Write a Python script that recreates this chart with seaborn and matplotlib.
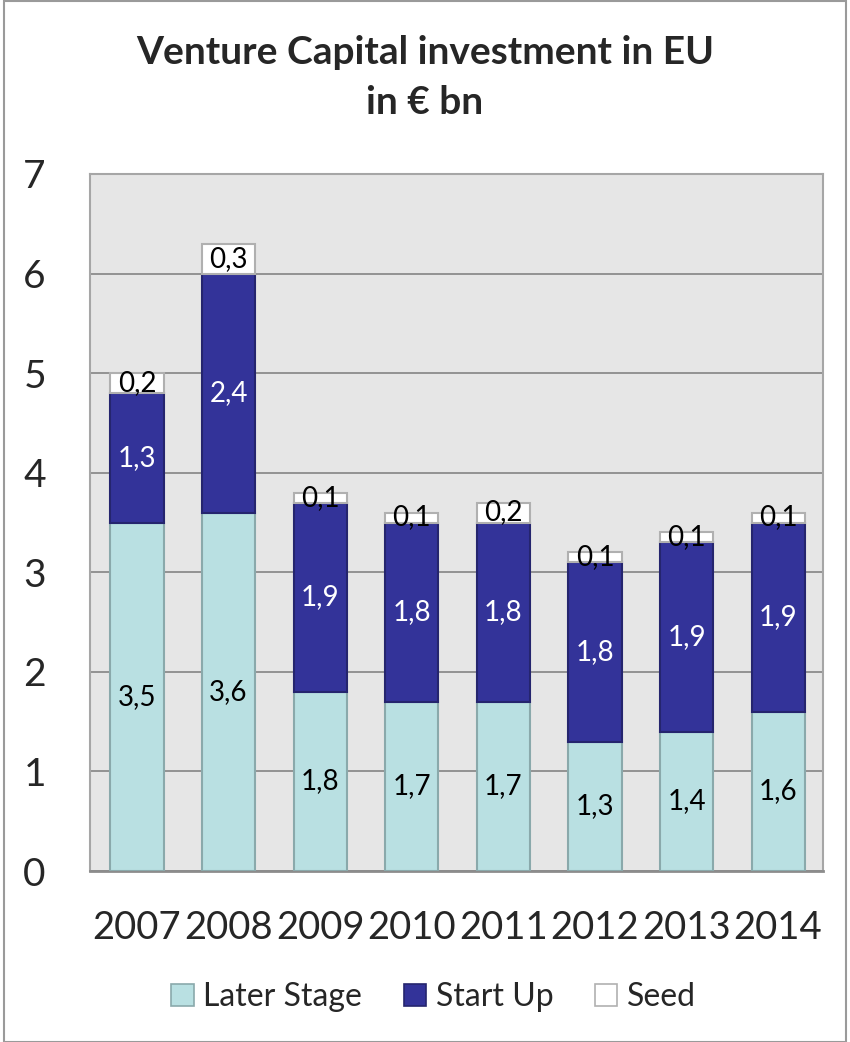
import matplotlib
matplotlib.use("Agg")
import matplotlib.pyplot as plt
import seaborn as sns
import numpy as np
import pandas as pd
from matplotlib.patches import Patch, Rectangle

years = ["2007", "2008", "2009", "2010", "2011", "2012", "2013", "2014"]
later_stage = [3.5, 3.6, 1.8, 1.7, 1.7, 1.3, 1.4, 1.6]
start_up = [1.3, 2.4, 1.9, 1.8, 1.8, 1.8, 1.9, 1.9]
seed = [0.2, 0.3, 0.1, 0.1, 0.2, 0.1, 0.1, 0.1]
series_names = ["Later Stage", "Start Up", "Seed"]
y_ticks = [0, 1, 2, 3, 4, 5, 6, 7]

sns.set_theme(style="white")
plt.rcParams['font.family'] = ['Lato', 'DejaVu Sans']

fig = plt.figure(figsize=(8.5, 10.42), dpi=100)
ax = fig.add_axes([90/850, 1 - 871/1042, (823-90)/850, (871-174)/1042])
ax.set_facecolor("#e6e6e6")

colors = ["#b9e0e2", "#333399", "#ffffff"]
edges = ["#8aa9ab", "#25256e", "#b0b0b0"]
txtcol = ["black", "white", "black"]

df = pd.DataFrame({"year": years, "later": later_stage, "start": start_up, "seed": seed})
bottoms = np.zeros(len(years))
for key, name, c, ec, tc in zip(["later", "start", "seed"], series_names, colors, edges, txtcol):
    vals = df[key].to_numpy()
    sns.barplot(data=df, x="year", y=key, bottom=bottoms, color=c, edgecolor=ec,
                linewidth=1.5, width=0.58, saturation=1, ax=ax, zorder=3)
    for i, v in enumerate(vals):
        ax.text(i, bottoms[i] + v / 2, f"{v:.1f}".replace(".", ","), ha="center", va="center",
                fontsize=20, color=tc, zorder=5)
    bottoms = bottoms + vals

ax.set_ylim(0, 7)
ax.set_xlim(-0.513, 7.49)
ax.set_yticks(y_ticks)
ax.set_yticklabels([str(t) for t in y_ticks], fontsize=28)
ax.tick_params(axis="x", labelsize=27.5, pad=28, length=0)
ax.tick_params(axis="y", pad=48, length=0)
for lbl in ax.get_yticklabels():
    lbl.set_horizontalalignment("left")
ax.yaxis.grid(True, color="#8c8c8c", linewidth=1.3, zorder=0)
ax.set_axisbelow(True)
ax.set_xlabel("")
ax.set_ylabel("")
for s in ["left", "top", "right"]:
    ax.spines[s].set_color("#a6a6a6")
    ax.spines[s].set_linewidth(1.5)
ax.spines["bottom"].set_color("#8c8c8c")
ax.spines["bottom"].set_linewidth(2)

fig.text(0.5, 1 - 52/1042, "Venture Capital investment in EU", ha="center", va="center",
         fontsize=28, fontweight="bold")
fig.text(0.5, 1 - 103/1042, "in € bn", ha="center", va="center",
         fontsize=28, fontweight="bold")

handles = [Patch(facecolor=c, edgecolor=ec, linewidth=1.2) for c, ec in zip(colors, edges)]
fig.legend(handles, series_names, loc="center", bbox_to_anchor=(0.51, 1 - 997/1042), ncol=3,
           frameon=False, fontsize=23, handlelength=0.7, handleheight=0.7, handletextpad=0.3,
           columnspacing=1.3)

fig.patches.append(Rectangle((0.005, 0.0), 0.99, 0.999, transform=fig.transFigure,
                             fill=False, edgecolor="#9a9a9a", linewidth=1.5))

fig.savefig("out.png", dpi=100)
